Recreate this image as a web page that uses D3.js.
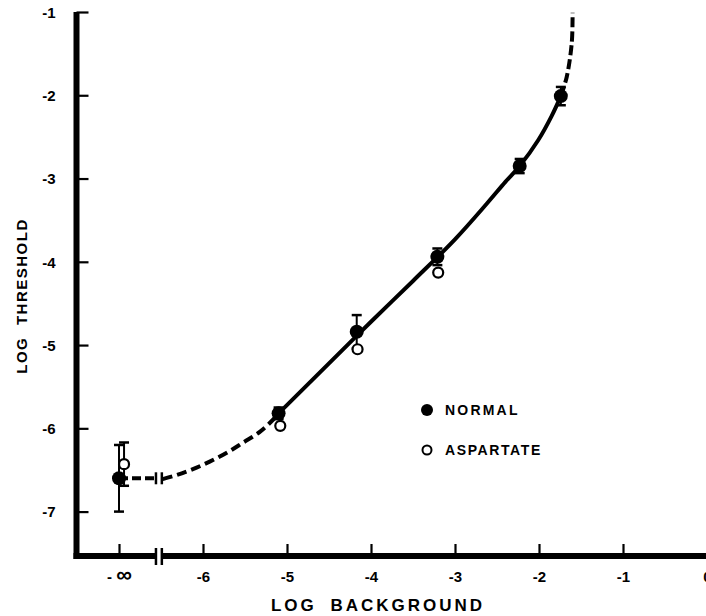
<!DOCTYPE html>
<html>
<head>
<meta charset="utf-8">
<script src="https://cdn.jsdelivr.net/npm/d3@7/dist/d3.min.js"></script>
<style>
  html, body { margin: 0; padding: 0; background: #fff; }
  svg { display: block; }
  text { font-family: "Liberation Sans", Arial, sans-serif; font-weight: bold; fill: #000; }
</style>
</head>
<body>
<svg id="chart" width="706" height="616"></svg>
<script>
// ---- data (log background; -7 stands for -∞ on the broken axis) ----
const xTicks = [-7, -6, -5, -4, -3, -2, -1, 0];
const xTickLabels = ["- \u221E", "-6", "-5", "-4", "-3", "-2", "-1", "0"];
const yTicks = [-1, -2, -3, -4, -5, -6, -7];
const yTickLabels = ["-1", "-2", "-3", "-4", "-5", "-6", "-7"];

const normalBg = [-7, -5.1, -4.17, -3.21, -2.23, -1.74];
const normal = [-6.6, -5.82, -4.84, -3.94, -2.85, -2.01];
const normalErr = [0.4, 0.07, 0.2, 0.1, 0.085, 0.11];

const aspartateBg = [-6.94, -5.08, -4.16, -3.2];
const aspartate = [-6.43, -5.97, -5.05, -4.13];
const aspartateErr = [0.26, 0, 0, 0];

// fitted curve
const curveZeroX = [-7, -6.57];
const curveZeroY = [-6.6, -6.6];
const curveLowX = [-6.48, -6.31, -6.12, -5.92, -5.71, -5.52, -5.32, -5.17, -5.1];
const curveLowY = [-6.61, -6.56, -6.49, -6.4, -6.29, -6.17, -6.04, -5.9, -5.82];
const curveMidX = [-5.1, -4.5, -4.0, -3.5, -3.0, -2.62, -2.4, -2.23, -2.01, -1.85, -1.74];
const curveMidY = [-5.82, -5.22, -4.72, -4.23, -3.73, -3.3, -3.04, -2.85, -2.54, -2.25, -2.01];
const curveHighX = [-1.74, -1.67, -1.61, -1.6];
const curveHighY = [-2.01, -1.78, -1.37, -1.01];

const breakX = [-6.56, -6.49];

// ---- layout ----
const svg = d3.select("#chart");
const x = d3.scaleLinear().domain([-6, 0]).range([203, 707]);
const y = d3.scaleLinear().domain([-1, -7]).range([12, 511.6]);
const axisY = 556;   // bottom axis position
const axisX = 76.5;  // left axis position

const zip = (a, b) => a.map((v, i) => [v, b[i]]);
const line = d3.line().x(d => x(d[0])).y(d => y(d[1])).curve(d3.curveCatmullRom.alpha(0.5));

// ---- axes ----
const gy = svg.append("g").attr("transform", `translate(${axisX},0)`)
  .call(d3.axisLeft(y).tickValues(yTicks).tickSize(-12).tickPadding(21)
    .tickFormat((d, i) => yTickLabels[i]));
gy.select(".domain").remove();
gy.selectAll(".tick line").attr("stroke", "#000").attr("stroke-width", 2.2);
gy.selectAll(".tick text").attr("font-size", 15).attr("dy", "0.35em")
  .style("font-family", "'Liberation Sans', Arial, sans-serif").style("font-weight", "bold");

const gx = svg.append("g").attr("transform", `translate(0,${axisY})`)
  .call(d3.axisBottom(x).tickValues(xTicks).tickSize(-12).tickPadding(15)
    .tickFormat((d, i) => xTickLabels[i]));
gx.select(".domain").remove();
gx.selectAll(".tick line").attr("stroke", "#000").attr("stroke-width", 2.2);
gx.selectAll(".tick text").attr("font-size", 15)
  .style("font-family", "'Liberation Sans', Arial, sans-serif").style("font-weight", "bold");
// enlarge the infinity glyph
gx.selectAll(".tick text").filter((d) => d === -7).each(function () {
  const t = d3.select(this);
  t.text(null);
  t.append("tspan").text("- ");
  t.append("tspan").attr("font-size", 22).attr("dy", "0.02em").text("\u221E");
});

// thick axis lines
svg.append("line").attr("x1", axisX).attr("x2", axisX).attr("y1", y(-1)).attr("y2", axisY + 3)
  .attr("stroke", "#000").attr("stroke-width", 6);
svg.append("line").attr("x1", axisX - 3).attr("x2", x(breakX[0])).attr("y1", axisY).attr("y2", axisY)
  .attr("stroke", "#000").attr("stroke-width", 6);
svg.append("line").attr("x1", x(breakX[1])).attr("x2", 706).attr("y1", axisY).attr("y2", axisY)
  .attr("stroke", "#000").attr("stroke-width", 6);
breakX.forEach(b => {
  svg.append("line").attr("x1", x(b)).attr("x2", x(b)).attr("y1", axisY - 8).attr("y2", axisY + 9)
    .attr("stroke", "#000").attr("stroke-width", 2.5);
});

// ---- curve ----
const cg = svg.append("g").attr("fill", "none").attr("stroke", "#000").attr("stroke-width", 4);
cg.append("path").attr("d", line(zip(curveZeroX, curveZeroY))).attr("stroke-dasharray", "9,4");
cg.append("path").attr("d", line(zip(curveLowX, curveLowY))).attr("stroke-dasharray", "10,5");
cg.append("path").attr("d", line(zip(curveMidX, curveMidY)));
cg.append("path").attr("d", line(zip(curveHighX, curveHighY))).attr("stroke-dasharray", "10,4");
// break marks on the curve
breakX.forEach(b => {
  svg.append("line").attr("x1", x(b)).attr("x2", x(b))
    .attr("y1", y(-6.6) - 6).attr("y2", y(-6.6) + 6)
    .attr("stroke", "#000").attr("stroke-width", 2.5);
});

// ---- error bars ----
function errBars(bx, by, be) {
  bx.forEach((v, i) => {
    if (!be[i]) return;
    const cx = x(v), y1 = y(by[i] + be[i]), y2 = y(by[i] - be[i]);
    svg.append("line").attr("x1", cx).attr("x2", cx).attr("y1", y1).attr("y2", y2)
      .attr("stroke", "#000").attr("stroke-width", 2);
    [y1, y2].forEach(yy => svg.append("line").attr("x1", cx - 5).attr("x2", cx + 5)
      .attr("y1", yy).attr("y2", yy).attr("stroke", "#000").attr("stroke-width", 2.5));
  });
}
errBars(normalBg, normal, normalErr);
errBars(aspartateBg, aspartate, aspartateErr);

// ---- points ----
svg.append("g").selectAll("circle").data(zip(aspartateBg, aspartate)).join("circle")
  .attr("cx", d => x(d[0])).attr("cy", d => y(d[1])).attr("r", 5)
  .attr("fill", "#fff").attr("stroke", "#000").attr("stroke-width", 2.2);
svg.append("g").selectAll("circle").data(zip(normalBg, normal)).join("circle")
  .attr("cx", d => x(d[0])).attr("cy", d => y(d[1])).attr("r", 7)
  .attr("fill", "#000");

// ---- legend ----
svg.append("circle").attr("cx", 427).attr("cy", 410).attr("r", 6).attr("fill", "#000");
svg.append("text").attr("x", 445).attr("y", 415).attr("font-size", 14).attr("letter-spacing", 2.2)
  .text("NORMAL");
svg.append("circle").attr("cx", 427).attr("cy", 450).attr("r", 4.5).attr("fill", "#fff")
  .attr("stroke", "#000").attr("stroke-width", 2);
svg.append("text").attr("x", 445).attr("y", 455).attr("font-size", 14).attr("letter-spacing", 1.6)
  .text("ASPARTATE");

// ---- axis titles ----
svg.append("text").attr("x", 378).attr("y", 605).attr("dy", "0.35em").attr("text-anchor", "middle")
  .attr("font-size", 17).attr("letter-spacing", 3).attr("word-spacing", 6)
  .text("LOG BACKGROUND");
svg.append("text").attr("transform", "translate(22,296) rotate(-90)").attr("dy", "0.35em")
  .attr("text-anchor", "middle").attr("font-size", 15).attr("letter-spacing", 1.5).attr("word-spacing", 6)
  .text("LOG THRESHOLD");
</script>
</body>
</html>
